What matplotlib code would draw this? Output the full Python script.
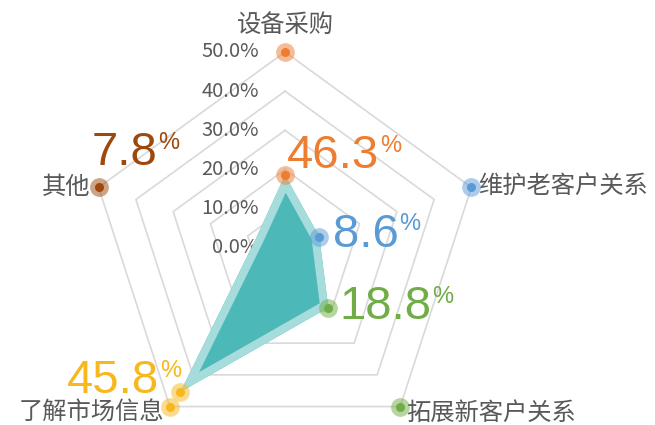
import numpy as np
import matplotlib
matplotlib.use("Agg")
import matplotlib.pyplot as plt

# data
categories = ["设备采购", "维护老客户关系", "拓展新客户关系", "了解市场信息", "其他"]
plotted = [18.6, 9.2, 18.8, 45.4, 7.8]          # radius where points sit
label_txt = ["46.3", "8.6", "18.8", "45.8", "7.8"]  # printed labels
ticks = [0, 10, 20, 30, 40, 50]
colors = ["#ED7D31", "#5B9BD5", "#70AD47", "#F7B81E", "#9E480E"]

CJK = ["Noto Sans CJK SC", "DejaVu Sans"]
NUM = ["Liberation Sans", "DejaVu Sans"]
GRAY = "#595959"

fig = plt.figure(figsize=(6.55, 4.25), dpi=100)
ax = fig.add_axes([0.1359, -0.0447, 0.5985, 0.9224], projection="polar")
ax.set_theta_zero_location("N")
ax.set_theta_direction(-1)
ax.set_ylim(0, 50)
ax.axis("off")

theta = np.deg2rad(np.arange(5) * 72.0)
tc = np.append(theta, theta[0])

# pentagon grid
for r in ticks[1:]:
    ax.plot(tc, [r] * 6, color="#D9D9D9", lw=1.2, zorder=1, clip_on=False)

# tick labels
for r in ticks:
    ax.annotate(f"{r:.1f}%", xy=(0, r), xytext=(-19, 0), textcoords="offset points",
                ha="right", va="center", fontsize=14.5, color=GRAY, family=CJK)

# filled area
vals = np.append(plotted, plotted[0])
poly = ax.fill(tc, vals, color="#4DB8B8", lw=0, zorder=2)[0]
edge = ax.plot(tc, vals, color="#A6DCDC", lw=11.5, zorder=3, solid_joinstyle="miter")[0]
edge.set_clip_path(poly)

# outer markers on each axis
for t, c in zip(theta, colors):
    ax.plot(t, 50, "o", ms=13.5, color=c, alpha=0.5, mec="none", zorder=5, clip_on=False)
    ax.plot(t, 50, "o", ms=6.5, color=c, mec="none", zorder=6, clip_on=False)
# data markers
for t, v, c in zip(theta[:4], plotted[:4], colors[:4]):
    ax.plot(t, v, "o", ms=13.5, color=c, alpha=0.5, mec="none", zorder=5, clip_on=False)
    ax.plot(t, v, "o", ms=6.5, color=c, mec="none", zorder=6, clip_on=False)

# category labels (offsets in points)
cat_pos = [((0, 19.5), "center"), ((5, 1), "left"), ((4, -4.5), "left"),
           ((-4, -3.5), "right"), ((-6, 0), "right")]
for t, name, (off, ha) in zip(theta, categories, cat_pos):
    ax.annotate(name, xy=(t, 50), xytext=off, textcoords="offset points",
                ha=ha, va="center", fontsize=17.5, color=GRAY, family=CJK,
                annotation_clip=False)

# value labels: big number + small superscript %
val_pos = [((1.5, 5), plotted[0]), ((9.5, -7), plotted[1]),
           ((8, -8), plotted[2]), ((-81.5, -1), plotted[3]),
           ((-5, 16), 50)]
nums = []
for t, txt, c, (off, r) in zip(theta, label_txt, colors, val_pos):
    n = ax.annotate(txt, xy=(t, r), xytext=off, textcoords="offset points",
                    ha="left", va="baseline", fontsize=34, color=c, family=NUM,
                    annotation_clip=False, zorder=7)
    nums.append(n)

fig.canvas.draw()
rend = fig.canvas.get_renderer()
em = 34 * 100 / 72
for n, c in zip(nums, colors):
    bb = n.get_window_extent(rend)
    top = bb.y0 + em * 0.212 + em * 0.70
    fig.text((bb.x1 + 1) / fig.bbox.width, top / fig.bbox.height, "%",
             ha="left", va="top", fontsize=17, color=c, family=NUM, zorder=7)

fig.savefig("out.png", dpi=100, facecolor="white")
